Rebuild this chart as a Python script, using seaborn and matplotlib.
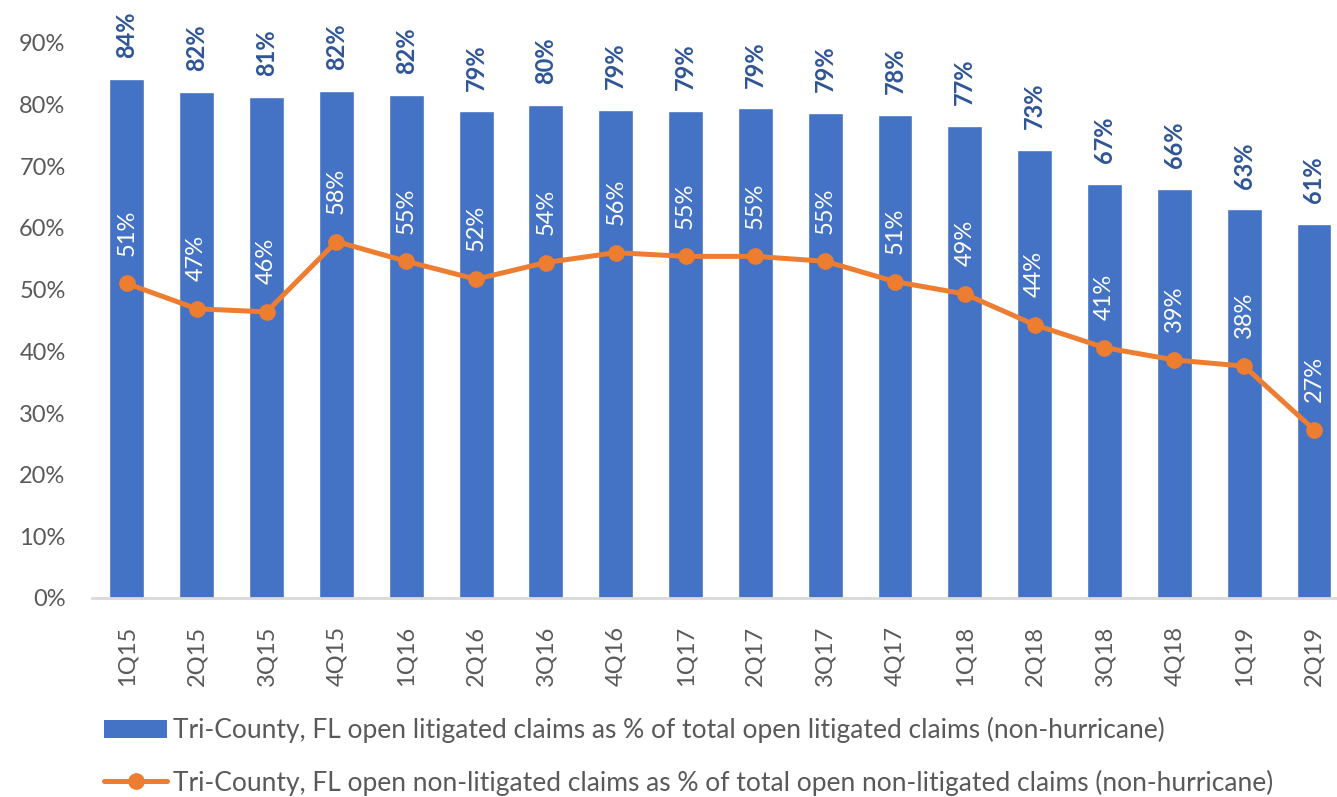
import matplotlib
matplotlib.use('Agg')
import matplotlib.pyplot as plt
from matplotlib.lines import Line2D
from matplotlib.patches import Patch
import seaborn as sns
import pandas as pd

# Daten
quarters = ['1Q15', '2Q15', '3Q15', '4Q15', '1Q16', '2Q16', '3Q16', '4Q16', '1Q17',
            '2Q17', '3Q17', '4Q17', '1Q18', '2Q18', '3Q18', '4Q18', '1Q19', '2Q19']
litigated = [84.2, 82.0, 81.2, 82.2, 81.6, 78.9, 80.0, 79.2, 79.0,
             79.4, 78.6, 78.4, 76.6, 72.6, 67.2, 66.3, 63.0, 60.7]
non_litigated = [51.0, 46.9, 46.4, 57.8, 54.6, 51.7, 54.4, 56.0, 55.4,
                 55.4, 54.6, 51.3, 49.3, 44.3, 40.6, 38.6, 37.6, 27.3]

bar_label = 'Tri-County, FL open litigated claims as % of total open litigated claims (non-hurricane)'
line_label = 'Tri-County, FL open non-litigated claims as % of total open non-litigated claims (non-hurricane)'

blue = '#4472c4'
orange = '#ed7d31'
dark_blue = '#2f5597'
grey = '#595959'

sns.set_style('white')
plt.rcParams['font.family'] = ['Lato', 'DejaVu Sans']

df = pd.DataFrame({'quarter': quarters,
                   'lit': [v / 100 for v in litigated],
                   'nonlit': [v / 100 for v in non_litigated]})
df['pos'] = range(len(df))

fig = plt.figure(figsize=(13.37, 7.97), dpi=100)
ax = fig.add_axes([92 / 1337, 199 / 797, 1245 / 1337, 555 / 797])

sns.barplot(data=df, x='quarter', y='lit', color=blue, width=0.5, saturation=1, ax=ax)
ax.plot(df['pos'], df['nonlit'], color=orange, lw=3.6, marker='o', markersize=11,
        solid_capstyle='round', zorder=3)

# Beschriftungen
fs = 17
for i, row in df.iterrows():
    ax.annotate(f"{row['lit']:.0%}", (row['pos'], row['lit']), xytext=(0, 15),
                textcoords='offset points', rotation=90, ha='center', va='bottom',
                fontsize=fs, fontweight='bold', color=dark_blue, annotation_clip=False)
    ax.annotate(f"{row['nonlit']:.0%}", (row['pos'], row['nonlit']), xytext=(0, 20),
                textcoords='offset points', rotation=90, ha='center', va='bottom',
                fontsize=fs, color='white', zorder=4)

ax.set_xlim(-0.5, 17.33)
ax.set_ylim(0, 0.9)
ax.set_yticks([i / 10 for i in range(10)])
ax.set_yticklabels([f'{i * 10}%' for i in range(10)])
ax.tick_params(axis='y', length=0, pad=19, labelsize=fs, labelcolor=grey)
ax.tick_params(axis='x', length=0, pad=20, labelsize=fs, labelcolor=grey, rotation=90)
ax.set_xlabel('')
ax.set_ylabel('')
for s in ['top', 'right', 'left']:
    ax.spines[s].set_visible(False)
ax.spines['bottom'].set_color('#d9d9d9')
ax.spines['bottom'].set_linewidth(2)

handles = [Patch(facecolor=blue, edgecolor='none'),
           Line2D([], [], color=orange, lw=3.6, marker='o', markersize=11)]
fig.legend(handles, [bar_label, line_label], loc='upper left',
           bbox_to_anchor=(104 / 1337, 80 / 797), frameon=False, fontsize=19,
           labelcolor=grey, handlelength=2.4, handletextpad=0.22, labelspacing=1.0,
           borderpad=0, borderaxespad=0)

plt.savefig('out.png', dpi=100)
